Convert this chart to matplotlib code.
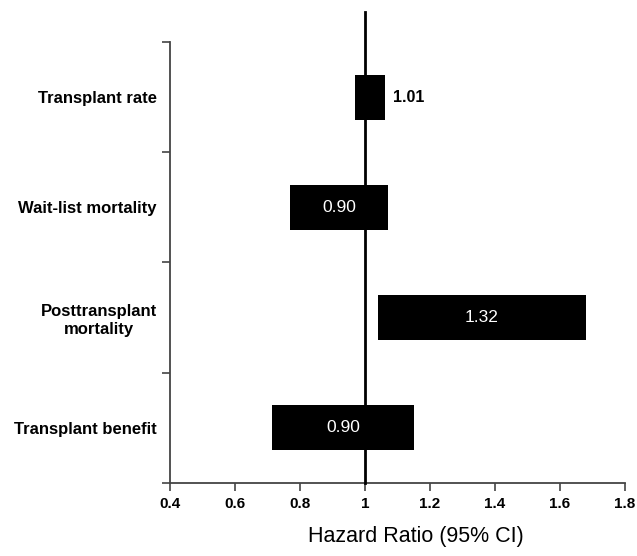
import matplotlib
matplotlib.use("Agg")
import matplotlib.pyplot as plt

# forest-plot style data: hazard ratio with 95% CI
outcomes = ["Transplant rate", "Wait-list mortality", "Posttransplant\nmortality", "Transplant benefit"]
hr = [1.01, 0.90, 1.32, 0.90]
ci_low = [0.97, 0.77, 1.04, 0.715]
ci_high = [1.06, 1.07, 1.68, 1.15]
label_inside = [False, True, True, True]
xticks = [0.4, 0.6, 0.8, 1.0, 1.2, 1.4, 1.6, 1.8]
xtick_labels = ["0.4", "0.6", "0.8", "1", "1.2", "1.4", "1.6", "1.8"]

plt.rcParams['font.family'] = ['Liberation Sans', 'DejaVu Sans']

fig = plt.figure(figsize=(6.37, 5.56), dpi=100)
ax = fig.add_axes([0.2669, 0.1313, 0.7143, 0.7932])

ypos = [i + 0.5 for i in range(len(outcomes))]
widths = [h - l for l, h in zip(ci_low, ci_high)]
ax.barh(ypos, widths, left=ci_low, height=0.41, color='black')

for y, l, h, v, inside in zip(ypos, ci_low, ci_high, hr, label_inside):
    if inside:
        ax.text((l + h) / 2, y, f"{v:.2f}", color='white', fontsize=12.5,
                ha='center', va='center')
    else:
        ax.text(h + 0.025, y, f"{v:.2f}", color='black', fontsize=11.5,
                fontweight='bold', ha='left', va='center')

# reference line at HR = 1, running above the plot area
ax.axvline(1.0, ymin=0, ymax=1.068, color='black', lw=2, clip_on=False, zorder=5)

ax.set_xlim(0.4, 1.8)
ax.set_ylim(4, 0)
ax.set_xticks(xticks, xtick_labels, fontsize=11, fontweight='bold')
ax.set_yticks([0, 1, 2, 3, 4], [])
ax.set_yticks(ypos, outcomes, minor=True, fontsize=12, fontweight='bold')
for lab in ax.get_yticklabels(minor=True):
    lab.set_multialignment('center')
ax.tick_params(axis='y', which='minor', length=0, pad=9.4)
ax.tick_params(axis='y', which='major', length=5.8, width=1.2, color='#444444')
ax.tick_params(axis='x', length=5.8, width=1.2, color='#444444', pad=4)

for s in ['top', 'right']:
    ax.spines[s].set_visible(False)
for s in ['left', 'bottom']:
    ax.spines[s].set_color('#444444')
    ax.spines[s].set_linewidth(1.3)

ax.set_xlabel("Hazard Ratio (95% CI)", fontsize=15.5)
ax.xaxis.set_label_coords(0.54, -0.098)

fig.savefig("out.png", dpi=100)
